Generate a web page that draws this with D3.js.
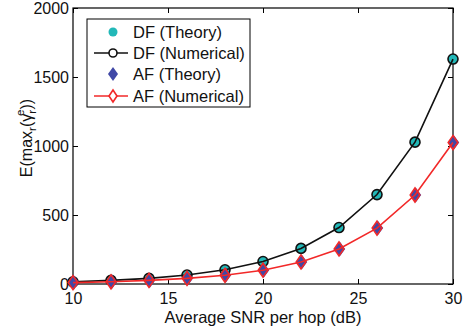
<!DOCTYPE html>
<html><head><meta charset="utf-8">
<script src="https://cdn.jsdelivr.net/npm/d3@7"></script>
<style>body{margin:0;background:#fff;} text{font-family:"Liberation Sans",Arial,sans-serif;}</style>
</head><body>
<svg id="c" width="467" height="329"></svg>
<script>
const snr = [10, 12, 14, 16, 18, 20, 22, 24, 26, 28, 30];
const dfTheory = [16, 26, 41, 65, 103, 163, 258, 409, 648, 1028, 1630];
const dfNumerical = [16, 26, 41, 65, 103, 163, 258, 409, 648, 1028, 1630];
const afTheory = [10, 16, 26, 41, 63, 100, 160, 254, 405, 645, 1025];
const afNumerical = [10, 16, 26, 41, 63, 100, 160, 254, 405, 645, 1025];
const xTicks = [10, 15, 20, 25, 30];
const yTicks = [0, 500, 1000, 1500, 2000];
const legendLabels = ["DF (Theory)", "DF (Numerical)", "AF (Theory)", "AF (Numerical)"];

const svg = d3.select("#c");
const L = 73, R = 453, T = 8, B = 284;
const x = d3.scaleLinear().domain([10, 30]).range([L, R]);
const y = d3.scaleLinear().domain([0, 2000]).range([B, T]);
const cyan = "#22b8b8", navy = "#4048a6", red = "#f22828";

// axes
const fs = 16;
svg.append("g").attr("transform", `translate(0,${B})`)
  .call(d3.axisBottom(x).tickValues(xTicks).tickSize(-5).tickPadding(9).tickFormat(d3.format("d")))
  .call(g => { g.select(".domain").remove(); g.selectAll("text").attr("font-size", fs).attr("font-family", "Liberation Sans, Arial").attr("fill", "#111"); });
svg.append("g").attr("transform", `translate(0,${T})`)
  .call(d3.axisTop(x).tickValues(xTicks).tickSize(-5).tickFormat(""))
  .call(g => g.select(".domain").remove());
svg.append("g").attr("transform", `translate(${L},0)`)
  .call(d3.axisLeft(y).tickValues(yTicks).tickSize(-5).tickPadding(4).tickFormat(d3.format("d")))
  .call(g => { g.select(".domain").remove(); g.selectAll("text").attr("font-size", fs).attr("font-family", "Liberation Sans, Arial").attr("fill", "#111"); });
svg.append("g").attr("transform", `translate(${R},0)`)
  .call(d3.axisRight(y).tickValues(yTicks).tickSize(-5).tickFormat(""))
  .call(g => g.select(".domain").remove());
svg.selectAll(".tick line").attr("stroke", "#000");
svg.append("rect").attr("x", L).attr("y", T).attr("width", R - L).attr("height", B - T)
  .attr("fill", "none").attr("stroke", "#000").attr("stroke-width", 1.2);

// labels
svg.append("text").attr("x", (L + R) / 2).attr("y", 323).attr("text-anchor", "middle")
  .attr("font-size", 16.5).attr("fill", "#111").text("Average SNR per hop (dB)");
const yl = svg.append("text").attr("transform", `translate(32,138) rotate(-90)`)
  .attr("text-anchor", "middle").attr("font-size", 16).attr("fill", "#111");
yl.append("tspan").text("E(max");
yl.append("tspan").attr("font-size", 11.5).attr("dy", 4).text("r");
yl.append("tspan").attr("dy", -4).text("(γ");
yl.append("tspan").attr("font-size", 11.5).attr("dy", 4).text("r");
yl.append("tspan").attr("font-size", 11.5).attr("dx", -6).attr("dy", -12).text("e");
yl.append("tspan").attr("dy", 8).text("))");

const line = d3.line().x((d, i) => x(snr[i])).y(d => y(d));
const diamond = (cx, cy, w, h) => `M${cx},${cy - h}L${cx + w},${cy}L${cx},${cy + h}L${cx - w},${cy}Z`;

// DF theory
svg.append("g").selectAll("circle").data(dfTheory).join("circle")
  .attr("cx", (d, i) => x(snr[i])).attr("cy", d => y(d)).attr("r", 5).attr("fill", cyan);
// DF numerical
svg.append("path").datum(dfNumerical).attr("d", line).attr("fill", "none").attr("stroke", "#111").attr("stroke-width", 1.6);
svg.append("g").selectAll("circle").data(dfNumerical).join("circle")
  .attr("cx", (d, i) => x(snr[i])).attr("cy", d => y(d)).attr("r", 5)
  .attr("fill", "none").attr("stroke", "#111").attr("stroke-width", 1.6);
// AF theory
svg.append("g").selectAll("path").data(afTheory).join("path")
  .attr("d", (d, i) => diamond(x(snr[i]) + 0.7, y(d), 5.5, 7.5)).attr("fill", navy);
// AF numerical
svg.append("path").datum(afNumerical).attr("d", line).attr("fill", "none").attr("stroke", red).attr("stroke-width", 1.6);
svg.append("g").selectAll("path.m").data(afNumerical).join("path").attr("class", "m")
  .attr("d", (d, i) => diamond(x(snr[i]), y(d), 4.8, 7)).attr("fill", "none")
  .attr("stroke", red).attr("stroke-width", 1.6);

// legend
const lg = svg.append("g");
lg.append("rect").attr("x", 87).attr("y", 19).attr("width", 163).attr("height", 88)
  .attr("fill", "#fff").attr("stroke", "#000").attr("stroke-width", 1);
const rows = [32, 53, 74, 96];
const mx = 113;
legendLabels.forEach((t, i) => {
  lg.append("text").attr("x", 133).attr("y", rows[i] + 6).attr("font-size", 16.5).attr("fill", "#111").text(t);
});
lg.append("circle").attr("cx", mx).attr("cy", rows[0]).attr("r", 4.5).attr("fill", cyan);
lg.append("line").attr("x1", 94).attr("x2", 128).attr("y1", rows[1]).attr("y2", rows[1]).attr("stroke", "#111").attr("stroke-width", 1.6);
lg.append("circle").attr("cx", mx).attr("cy", rows[1]).attr("r", 4).attr("fill", "#fff").attr("stroke", "#111").attr("stroke-width", 1.6);
lg.append("path").attr("d", diamond(mx, rows[2], 5, 7)).attr("fill", navy);
lg.append("line").attr("x1", 94).attr("x2", 128).attr("y1", rows[3]).attr("y2", rows[3]).attr("stroke", red).attr("stroke-width", 1.6);
lg.append("path").attr("d", diamond(mx, rows[3], 4, 6)).attr("fill", "#fff").attr("stroke", red).attr("stroke-width", 1.6);
</script>
</body></html>
